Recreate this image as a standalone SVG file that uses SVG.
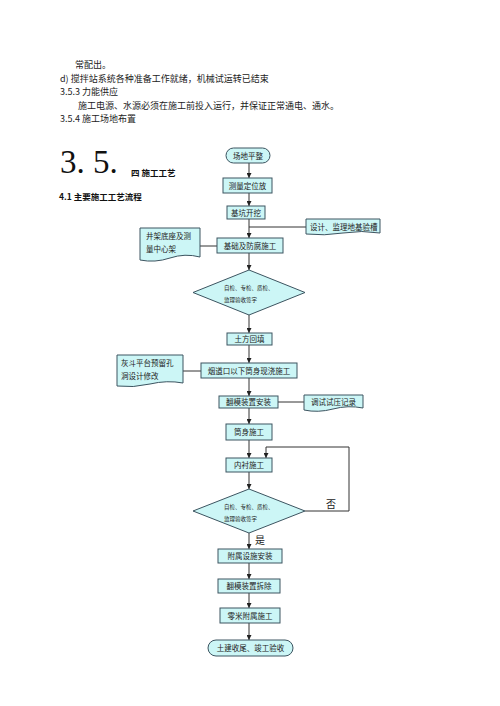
<svg xmlns="http://www.w3.org/2000/svg" width="500" height="706" viewBox="0 0 500 706">
<style>
.t{font-family:"Noto Sans CJK SC","Liberation Sans",sans-serif;font-size:9px;fill:#222}
.n{font-family:"Noto Sans CJK SC","Liberation Sans",sans-serif;font-size:7.5px;fill:#222;text-anchor:middle}
.s{font-family:"Noto Sans CJK SC","Liberation Sans",sans-serif;font-size:7.5px;fill:#222}
.d{font-family:"Noto Sans CJK SC","Liberation Sans",sans-serif;font-size:5.5px;fill:#222}
.b{fill:#ccf6f6;stroke:#3c5460;stroke-width:1}
.l{fill:none;stroke:#333;stroke-width:1}
</style>
<defs>
<marker id="a" viewBox="0 0 8 8" refX="8" refY="4" markerWidth="5" markerHeight="5" orient="auto"><path d="M0,0 L8,4 L0,8 z" fill="#222"/></marker>
</defs>
<rect width="500" height="706" fill="#fff"/>
<g id="text-top">
<text class="t" x="75" y="68">常配出。</text>
<text class="t" x="60" y="82">d)  搅拌站系统各种准备工作就绪，机械试运转已结束</text>
<text class="t" x="60" y="95">3.5.3 力能供应</text>
<text class="t" x="78" y="109">施工电源、水源必须在施工前投入运行，并保证正常通电、通水。</text>
<text class="t" x="60" y="122">3.5.4 施工场地布置</text>
<text x="60" y="173" font-family="Liberation Serif,serif" font-size="33" fill="#111">3. 5.</text>
<text x="131" y="176" font-family="Noto Sans CJK SC,sans-serif" font-size="8.5" font-weight="bold" fill="#111">四 施工工艺</text>
<text x="59" y="200" font-family="Noto Sans CJK SC,sans-serif" font-size="8.5" font-weight="bold" fill="#111">4.1 主要施工工艺流程</text>
</g>
<g id="connectors">
<line class="l" x1="249" y1="163" x2="249" y2="178" marker-end="url(#a)"/>
<line class="l" x1="249" y1="193" x2="249" y2="206" marker-end="url(#a)"/>
<line class="l" x1="249" y1="219" x2="249" y2="238" marker-end="url(#a)"/>
<line class="l" x1="306" y1="227" x2="249" y2="227"/>
<line class="l" x1="200" y1="246" x2="217" y2="246"/>
<line class="l" x1="249" y1="253" x2="249" y2="270" marker-end="url(#a)"/>
<line class="l" x1="249" y1="315" x2="249" y2="333" marker-end="url(#a)"/>
<line class="l" x1="249" y1="345" x2="249" y2="363" marker-end="url(#a)"/>
<line class="l" x1="183" y1="371" x2="201" y2="371"/>
<line class="l" x1="249" y1="378" x2="249" y2="396" marker-end="url(#a)"/>
<line class="l" x1="278" y1="402" x2="305" y2="402"/>
<line class="l" x1="249" y1="408" x2="249" y2="424" marker-end="url(#a)"/>
<line class="l" x1="249" y1="440" x2="249" y2="458" marker-end="url(#a)"/>
<line class="l" x1="249" y1="472" x2="249" y2="489" marker-end="url(#a)"/>
<polyline class="l" points="305,511 349,511 349,447 266,447 266,458" marker-end="url(#a)"/>
<line class="l" x1="249" y1="533" x2="249" y2="549" marker-end="url(#a)"/>
<line class="l" x1="249" y1="563" x2="249" y2="579" marker-end="url(#a)"/>
<line class="l" x1="249" y1="593" x2="249" y2="608" marker-end="url(#a)"/>
<line class="l" x1="249" y1="623" x2="249" y2="640" marker-end="url(#a)"/>
<text x="326" y="508" font-family="Noto Sans CJK SC,sans-serif" font-size="10" fill="#222">否</text>
<text x="255" y="544" font-family="Noto Sans CJK SC,sans-serif" font-size="10" fill="#222">是</text>
</g>
<g id="n1"><rect class="b" x="226" y="148" width="44" height="15" rx="7.5"/><text class="n" x="248" y="158.5">场地平整</text></g>
<g id="n2"><rect class="b" x="223" y="178" width="49" height="15"/><text class="n" x="247.5" y="188.5">测量定位放</text></g>
<g id="n3"><rect class="b" x="227" y="206" width="38" height="13"/><text class="n" x="246" y="215.5">基坑开挖</text></g>
<g id="n4"><path class="b" d="M306,219 H380 V233 Q362,230 343,233 T306,234 Z"/><text class="s" x="310" y="229.5">设计、监理地基验槽</text></g>
<g id="n5"><path class="b" d="M140,228 H200 V257 Q185,253 170,258 T140,260 Z"/><text class="s" x="146" y="239">井架底座及测</text><text class="s" x="146" y="252">量中心架</text></g>
<g id="n6"><rect class="b" x="217" y="238" width="66" height="15"/><text class="n" x="250" y="248.5">基础及防腐施工</text></g>
<g id="n7"><polygon class="b" points="249,270 305,292.5 249,315 193,292.5"/><text class="d" x="224" y="290">自检、专检、质检、</text><text class="d" x="224" y="302">监理验收签字</text></g>
<g id="n8"><rect class="b" x="227" y="333" width="45" height="12"/><text class="n" x="249.5" y="342">土方回填</text></g>
<g id="n9"><path class="b" d="M117,355 H183 V383 Q167,380 150,384 T117,386 Z"/><text class="s" x="121" y="366">灰斗平台预留孔</text><text class="s" x="121" y="379">洞设计修改</text></g>
<g id="n10"><rect class="b" x="201" y="363" width="96" height="15"/><text class="n" x="249" y="373.5">烟道口以下筒身现浇施工</text></g>
<g id="n11"><rect class="b" x="219" y="396" width="59" height="12"/><text class="n" x="248.5" y="405">翻模装置安装</text></g>
<g id="n12"><path class="b" d="M304,395 H363 V408 Q348,405 333,409 T304,410 Z"/><text class="s" x="311" y="405">调试试压记录</text></g>
<g id="n13"><rect class="b" x="226" y="424" width="46" height="16"/><text class="n" x="249" y="435">筒身施工</text></g>
<g id="n14"><rect class="b" x="226" y="458" width="46" height="14"/><text class="n" x="249" y="468">内衬施工</text></g>
<g id="n15"><polygon class="b" points="249,489 305,511 249,533 193,511"/><text class="d" x="224" y="509">自检、专检、质检、</text><text class="d" x="224" y="521">监理验收签字</text></g>
<g id="n16"><rect class="b" x="218" y="549" width="64" height="14"/><text class="n" x="250" y="559">附属设施安装</text></g>
<g id="n17"><rect class="b" x="218" y="579" width="62" height="14"/><text class="n" x="249" y="589">翻模装置拆除</text></g>
<g id="n18"><rect class="b" x="220" y="608" width="60" height="15"/><text class="n" x="250" y="618.5">零米附属施工</text></g>
<g id="n19"><rect class="b" x="208" y="640" width="85" height="16" rx="8"/><text class="n" x="250.5" y="651">土建收尾、竣工验收</text></g>
</svg>
